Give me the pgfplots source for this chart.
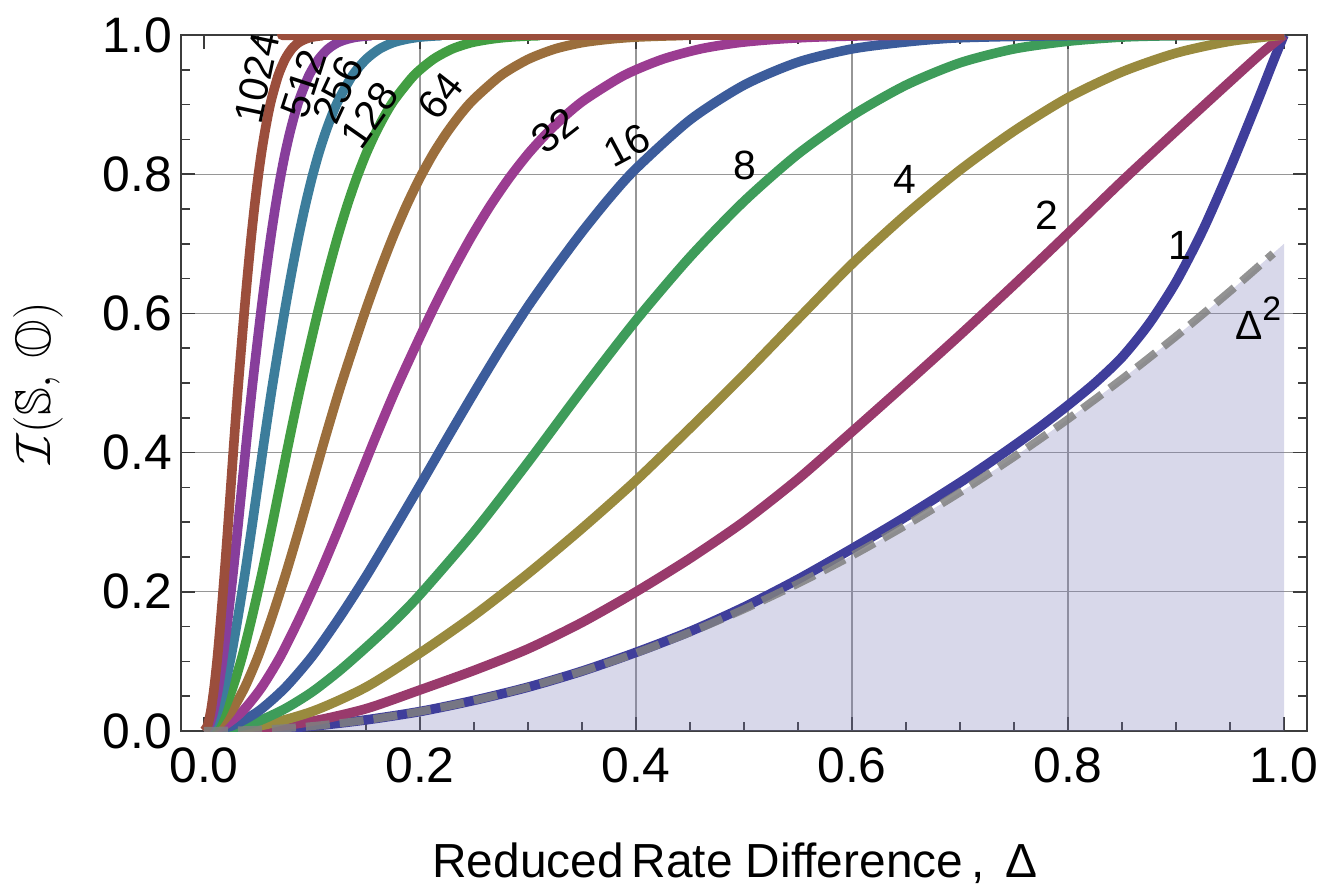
\documentclass[border=0pt]{standalone}
\usepackage{pgfplots}
\pgfplotsset{compat=1.18}
\usepackage{fontspec}
\setmainfont{Liberation Sans}
\usepackage{amssymb}
\definecolor{c1}{RGB}{63,62,155}
\definecolor{c2}{RGB}{153,58,108}
\definecolor{c4}{RGB}{153,138,62}
\definecolor{c8}{RGB}{62,156,90}
\definecolor{c16}{RGB}{60,92,155}
\definecolor{c32}{RGB}{155,60,145}
\definecolor{c64}{RGB}{155,110,60}
\definecolor{c128}{RGB}{66,158,66}
\definecolor{c256}{RGB}{60,125,155}
\definecolor{c512}{RGB}{135,62,155}
\definecolor{c1024}{RGB}{155,78,60}
\definecolor{fillc}{RGB}{125,125,185}
\definecolor{gridc}{RGB}{150,150,150}
\definecolor{framec}{RGB}{60,60,60}
\begin{document}
\begin{tikzpicture}
\begin{axis}[
  scale only axis, width=563bp, height=348bp,
  xmin=-0.0213, xmax=1.0213, ymin=0, ymax=1,
  xtick={0,0.2,0.4,0.6,0.8,1}, ytick={0,0.2,0.4,0.6,0.8,1},
  minor tick num=3,
  major tick length=7bp, minor tick length=4.5bp,
  tick style={framec, line width=0.8bp},
  axis line style={framec, line width=1bp},
  ymajorgrids=true,
  extra x ticks={0.2,0.4,0.6,0.8}, extra x tick labels={},
  extra x tick style={grid=major},
  grid style={gridc, line width=0.6bp},
  /pgf/number format/.cd, fixed, fixed zerofill, precision=1, assume math mode=true,
  /pgfplots/.cd,
  tick label style={font=\fontsize{25}{30}\selectfont},
  xticklabel style={yshift=-5bp},
  yticklabel style={xshift=-1bp},
  xlabel={Reduced\,Rate Difference\,, \,Δ},
  xlabel style={font=\fontsize{24}{28}\selectfont, at={(axis description cs:0.492,-0.19)}, anchor=center},
  ylabel={$\mathcal{I}(\mathbb{S},\,\mathbb{O})$},
  ylabel style={font=\fontsize{25}{30}\selectfont, inner sep=0pt, at={(axis description cs:-0.127,0.5)}, anchor=center, rotate=0},
  clip mode=individual,
  every axis plot/.append style={line width=4.8bp, line join=round, smooth, tension=0.45},
]
% shaded region under 0.7*Delta^2
\addplot[draw=none, fill=fillc, fill opacity=0.3] coordinates {
(0,0)(0.05,0.00175)(0.1,0.007)(0.15,0.01575)(0.2,0.028)(0.25,0.04375)(0.3,0.063)(0.35,0.08575)(0.4,0.112)(0.45,0.14175)(0.5,0.175)(0.55,0.21175)(0.6,0.252)(0.65,0.29575)(0.7,0.343)(0.75,0.39375)(0.8,0.448)(0.85,0.50575)(0.9,0.567)(0.95,0.63175)(1,0.7)} \closedcycle;
% n = 1
\addplot[c1] coordinates {
(0,0)(0.05,0.0018)(0.1,0.007)(0.15,0.016)(0.2,0.028)(0.25,0.044)(0.3,0.063)(0.35,0.086)(0.4,0.113)(0.45,0.143)(0.5,0.178)(0.55,0.218)(0.6,0.262)(0.65,0.308)(0.7,0.357)(0.725,0.383)(0.75,0.41)(0.775,0.438)(0.8,0.468)(0.825,0.5)(0.85,0.537)(0.875,0.585)(0.9,0.645)(0.925,0.72)(0.95,0.808)(0.975,0.903)(0.99,0.962)(1,1)};
% n = 2
\addplot[c2] coordinates {
(0,0)(0.05,0.0035)(0.1,0.014)(0.15,0.032)(0.2,0.059)(0.25,0.087)(0.3,0.118)(0.35,0.156)(0.4,0.2)(0.45,0.248)(0.5,0.301)(0.55,0.362)(0.6,0.43)(0.65,0.499)(0.7,0.569)(0.75,0.641)(0.8,0.715)(0.85,0.79)(0.9,0.862)(0.95,0.933)(0.98,0.975)(1,1)};
% n = 4
\addplot[c4] coordinates {
(0,0)(0.05,0.007)(0.1,0.028)(0.15,0.063)(0.2,0.112)(0.25,0.166)(0.3,0.226)(0.35,0.291)(0.4,0.36)(0.45,0.435)(0.5,0.512)(0.55,0.592)(0.6,0.671)(0.65,0.742)(0.7,0.806)(0.75,0.862)(0.8,0.91)(0.85,0.947)(0.9,0.974)(0.95,0.991)(1,1)};
% n = 8
\addplot[c8] coordinates {
(0,0)(0.025,0.0035)(0.05,0.014)(0.075,0.032)(0.1,0.056)(0.125,0.086)(0.15,0.12)(0.175,0.156)(0.2,0.196)(0.25,0.286)(0.3,0.386)(0.35,0.49)(0.4,0.59)(0.45,0.681)(0.5,0.761)(0.55,0.829)(0.6,0.884)(0.65,0.928)(0.7,0.96)(0.75,0.98)(0.8,0.991)(0.85,0.997)(0.9,0.999)(1,1)};
% n = 16
\addplot[c16] coordinates {
(0,0)(0.025,0.007)(0.05,0.028)(0.075,0.062)(0.1,0.107)(0.125,0.162)(0.15,0.222)(0.175,0.287)(0.2,0.353)(0.225,0.42)(0.25,0.486)(0.275,0.55)(0.3,0.61)(0.325,0.665)(0.35,0.717)(0.375,0.765)(0.4,0.808)(0.45,0.878)(0.5,0.928)(0.55,0.961)(0.6,0.98)(0.65,0.99)(0.7,0.996)(0.8,0.999)(1,1)};
% n = 32
\addplot[c32] coordinates {
(0,0)(0.01768,0.007)(0.03536,0.028)(0.05303,0.062)(0.07071,0.107)(0.08839,0.162)(0.10607,0.222)(0.12374,0.287)(0.14142,0.355)(0.1591,0.423)(0.17678,0.488)(0.19445,0.548)(0.21213,0.606)(0.22981,0.66)(0.24749,0.71)(0.26517,0.755)(0.28284,0.795)(0.30052,0.83)(0.3182,0.86)(0.33588,0.886)(0.35355,0.908)(0.38891,0.942)(0.42426,0.965)(0.45962,0.98)(0.49497,0.989)(0.53033,0.994)(0.56569,0.997)(0.61872,0.999)(0.70711,1)(1,1)};
% n = 64
\addplot[c64] coordinates {
(0,0)(0.0125,0.007)(0.025,0.028)(0.0375,0.062)(0.05,0.107)(0.0625,0.162)(0.075,0.222)(0.0875,0.287)(0.1,0.355)(0.1125,0.423)(0.125,0.488)(0.1375,0.548)(0.15,0.606)(0.1625,0.66)(0.175,0.71)(0.1875,0.755)(0.2,0.795)(0.2125,0.83)(0.225,0.86)(0.2375,0.886)(0.25,0.908)(0.275,0.942)(0.3,0.965)(0.325,0.98)(0.35,0.989)(0.375,0.994)(0.4,0.997)(0.4375,0.999)(0.5,1)(1,1)};
% n = 128
\addplot[c128] coordinates {
(0,0)(0.00884,0.007)(0.01768,0.028)(0.02652,0.062)(0.03536,0.107)(0.04419,0.162)(0.05303,0.222)(0.06187,0.287)(0.07071,0.355)(0.07955,0.423)(0.08839,0.488)(0.09723,0.548)(0.10607,0.606)(0.1149,0.66)(0.12374,0.71)(0.13258,0.755)(0.14142,0.795)(0.15026,0.83)(0.1591,0.86)(0.16794,0.886)(0.17678,0.908)(0.19445,0.942)(0.21213,0.965)(0.22981,0.98)(0.24749,0.989)(0.26517,0.994)(0.28284,0.997)(0.30936,0.999)(0.35355,1)(1,1)};
% n = 256
\addplot[c256] coordinates {
(0,0)(0.00625,0.007)(0.0125,0.028)(0.01875,0.062)(0.025,0.107)(0.03125,0.162)(0.0375,0.222)(0.04375,0.287)(0.05,0.355)(0.05625,0.423)(0.0625,0.488)(0.06875,0.548)(0.075,0.606)(0.08125,0.66)(0.0875,0.71)(0.09375,0.755)(0.1,0.795)(0.10625,0.83)(0.1125,0.86)(0.11875,0.886)(0.125,0.908)(0.1375,0.942)(0.15,0.965)(0.1625,0.98)(0.175,0.989)(0.1875,0.994)(0.2,0.997)(0.21875,0.999)(0.25,1)(1,1)};
% n = 512
\addplot[c512] coordinates {
(0,0)(0.00442,0.007)(0.00884,0.028)(0.01326,0.062)(0.01768,0.107)(0.0221,0.162)(0.02652,0.222)(0.03094,0.287)(0.03536,0.355)(0.03977,0.423)(0.04419,0.488)(0.04861,0.548)(0.05303,0.606)(0.05745,0.66)(0.06187,0.71)(0.06629,0.755)(0.07071,0.795)(0.07513,0.83)(0.07955,0.86)(0.08397,0.886)(0.08839,0.908)(0.09723,0.942)(0.10607,0.965)(0.1149,0.98)(0.12374,0.989)(0.13258,0.994)(0.14142,0.997)(0.15468,0.999)(0.17678,1)(1,1)};
% n = 1024
\addplot[c1024] coordinates {
(0,0)(0.003125,0.007)(0.00625,0.028)(0.009375,0.062)(0.0125,0.107)(0.015625,0.162)(0.01875,0.222)(0.021875,0.287)(0.025,0.355)(0.028125,0.423)(0.03125,0.488)(0.034375,0.548)(0.0375,0.606)(0.040625,0.66)(0.04375,0.71)(0.046875,0.755)(0.05,0.795)(0.053125,0.83)(0.05625,0.86)(0.059375,0.886)(0.0625,0.908)(0.06875,0.942)(0.075,0.965)(0.08125,0.98)(0.0875,0.989)(0.09375,0.994)(0.1,0.997)(0.109375,0.999)(0.125,1)(1,1)};
% Delta^2 reference (dashed)
\addplot[line width=4bp, color=gray, opacity=0.85, dash pattern=on 12bp off 5bp, line cap=butt] coordinates {
(0,0)(0.05,0.00175)(0.1,0.007)(0.15,0.01575)(0.2,0.028)(0.25,0.04375)(0.3,0.063)(0.35,0.08575)(0.4,0.112)(0.45,0.14175)(0.5,0.175)(0.55,0.21175)(0.6,0.252)(0.65,0.29575)(0.7,0.343)(0.75,0.39375)(0.8,0.448)(0.85,0.50575)(0.9,0.567)(0.95,0.63175)(0.99,0.686)};
% curve labels
\begin{scope}[every node/.style={font=\fontsize{20.5}{22}\selectfont, inner sep=0pt}]
\node[rotate=78] at (axis cs:0.049,0.938) {1024};
\node[rotate=72] at (axis cs:0.092,0.93) {512};
\node[rotate=65] at (axis cs:0.124,0.921) {256};
\node[rotate=55] at (axis cs:0.153,0.885) {128};
\node[rotate=52] at (axis cs:0.219,0.912) {64};
\node[rotate=38] at (axis cs:0.325,0.863) {32};
\node[rotate=28] at (axis cs:0.392,0.842) {16};
\node at (axis cs:0.501,0.813) {8};
\node at (axis cs:0.649,0.792) {4};
\node at (axis cs:0.78,0.741) {2};
\node at (axis cs:0.904,0.698) {1};
\node at (axis cs:0.976,0.593) {Δ\raisebox{0.45em}{\fontsize{17}{17}\selectfont 2}};
\end{scope}
\end{axis}
\pgfresetboundingbox
\path[use as bounding box] ([xshift=-90.5bp,yshift=-80bp]current axis.south west) rectangle ([xshift=7bp,yshift=17.5bp]current axis.north east);
\end{tikzpicture}
\end{document}
